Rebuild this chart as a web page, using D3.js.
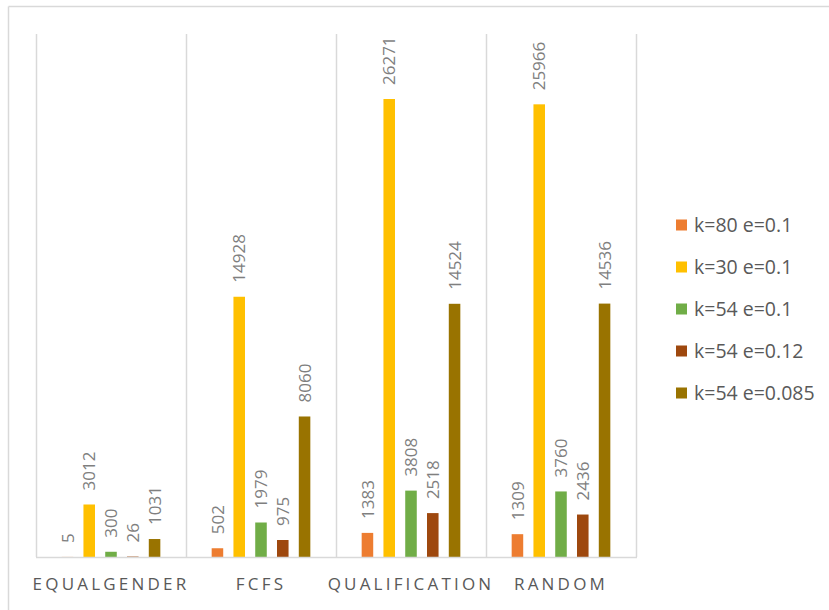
<!DOCTYPE html>
<html>
<head>
<meta charset="utf-8">
<script src="https://cdn.jsdelivr.net/npm/d3@7"></script>
<style>
  html, body { margin: 0; padding: 0; background: #fff; }
  svg { display: block; }
</style>
</head>
<body>
<svg id="chart" width="829" height="610"></svg>
<script>
const categories = ["EQUALGENDER", "FCFS", "QUALIFICATION", "RANDOM"];
const seriesNames = ["k=80 e=0.1", "k=30 e=0.1", "k=54 e=0.1", "k=54 e=0.12", "k=54 e=0.085"];
const seriesColors = ["#ED7D31", "#FFC000", "#70AD47", "#9E480E", "#997300"];
const valsK80e01 = [5, 502, 1383, 1309];
const valsK30e01 = [3012, 14928, 26271, 25966];
const valsK54e01 = [300, 1979, 3808, 3760];
const valsK54e012 = [26, 975, 2518, 2436];
const valsK54e0085 = [1031, 8060, 14524, 14536];
const seriesValues = [valsK80e01, valsK30e01, valsK54e01, valsK54e012, valsK54e0085];
const yMax = 30000;

const svg = d3.select("#chart");
const plot = { left: 36, right: 636, top: 34, bottom: 557 };

// outer frame (top & left visible)
svg.append("line").attr("x1", 8.5).attr("x2", 829).attr("y1", 6.5).attr("y2", 6.5)
  .attr("stroke", "#d9d9d9").attr("stroke-width", 1.5);
svg.append("line").attr("x1", 8.5).attr("x2", 8.5).attr("y1", 6.5).attr("y2", 610)
  .attr("stroke", "#d9d9d9").attr("stroke-width", 1.5);

const x0 = d3.scaleBand().domain(categories).range([plot.left, plot.right]).padding(0);
const bw = x0.bandwidth();
const x1 = d3.scaleBand().domain(seriesNames)
  .range([bw * 0.137, bw * 0.863]).paddingInner(0.47).paddingOuter(0.235);
const y = d3.scaleLinear().domain([0, yMax]).range([plot.bottom, plot.top]);

// vertical gridlines at category boundaries
const bounds = categories.map(c => x0(c)).concat([plot.right]);
svg.append("g").selectAll("line").data(bounds).join("line")
  .attr("x1", d => Math.round(d) + 0.5).attr("x2", d => Math.round(d) + 0.5)
  .attr("y1", plot.top).attr("y2", plot.bottom)
  .attr("stroke", "#d9d9d9").attr("stroke-width", 1.5);

// bars
const groups = svg.append("g").selectAll("g").data(categories).join("g")
  .attr("transform", c => `translate(${x0(c)},0)`);

const rows = (c, ci) => seriesNames.map((s, si) => ({ s, si, v: seriesValues[si][ci] }));

groups.each(function(c, ci) {
  const g = d3.select(this);
  const data = rows(c, ci);
  g.selectAll("rect").data(data).join("rect")
    .attr("x", d => x1(d.s))
    .attr("width", x1.bandwidth())
    .attr("y", d => y(d.v))
    .attr("height", d => y(0) - y(d.v))
    .attr("fill", d => seriesColors[d.si]);
  g.selectAll("text").data(data).join("text")
    .attr("transform", d => `translate(${x1(d.s) + x1.bandwidth() / 2},${y(d.v) - 14}) rotate(-90)`)
    .attr("dy", "0.36em")
    .attr("text-anchor", "start")
    .attr("font-family", "'Open Sans', sans-serif")
    .attr("font-size", 17)
    .attr("fill", "#7f7f7f")
    .text(d => d.v);
});

// baseline
svg.append("line").attr("x1", plot.left).attr("x2", plot.right + 1)
  .attr("y1", plot.bottom + 0.5).attr("y2", plot.bottom + 0.5)
  .attr("stroke", "#d9d9d9").attr("stroke-width", 1.5);

// category axis labels
svg.append("g").selectAll("text").data(categories).join("text")
  .attr("x", c => x0(c) + bw / 2)
  .attr("y", 590)
  .attr("text-anchor", "middle")
  .attr("font-family", "'Open Sans', sans-serif")
  .attr("font-size", 17)
  .attr("letter-spacing", "3.2px")
  .attr("fill", "#595959")
  .text(c => c);

// legend
const legend = svg.append("g").selectAll("g").data(seriesNames).join("g")
  .attr("transform", (s, i) => `translate(676,${225 + i * 42})`);
legend.append("rect").attr("x", 0).attr("y", -5.5).attr("width", 11).attr("height", 11)
  .attr("fill", (s, i) => seriesColors[i]);
legend.append("text").attr("x", 18).attr("y", 0).attr("dy", "0.36em")
  .attr("font-family", "'Open Sans', sans-serif")
  .attr("font-size", 19.5)
  .attr("fill", "#595959")
  .text(s => s);
</script>
</body>
</html>
